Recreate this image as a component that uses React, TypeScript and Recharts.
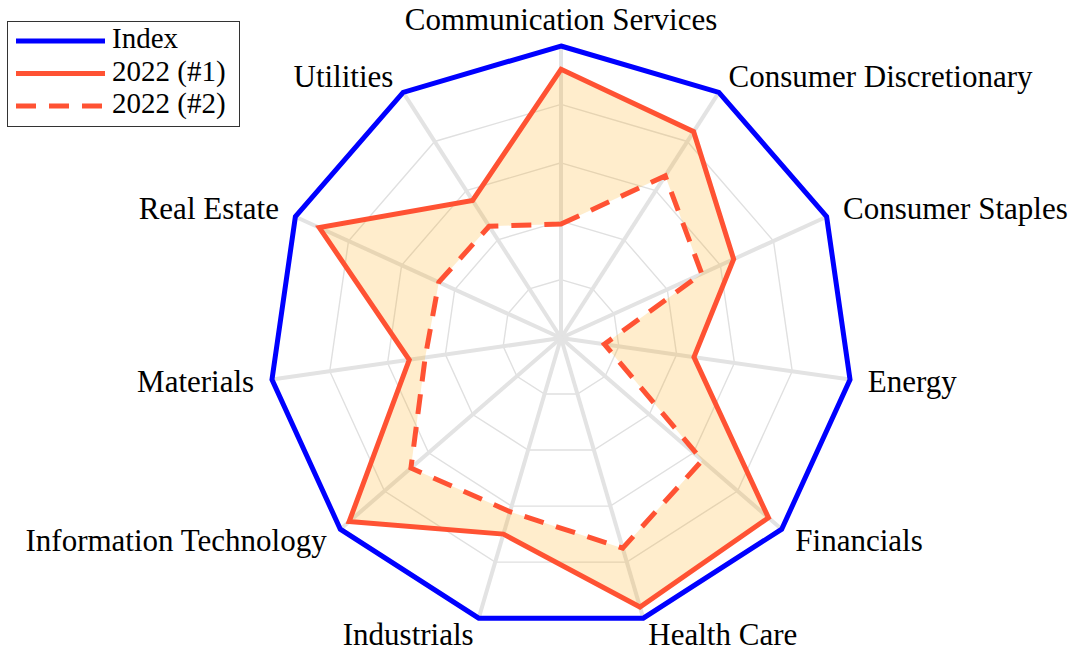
import { RadarChart, Radar, PolarGrid, PolarAngleAxis, PolarRadiusAxis, Legend } from 'recharts';

// sectors, clockwise from the top
const sectors = [
  'Communication Services',
  'Consumer Discretionary',
  'Consumer Staples',
  'Energy',
  'Financials',
  'Health Care',
  'Industrials',
  'Information Technology',
  'Materials',
  'Real Estate',
  'Utilities',
];

// values are relative to the index (index = 1)
const indexValues = [1, 1, 1, 1, 1, 1, 1, 1, 1, 1, 1];
const values2022a = [0.92, 0.84, 0.65, 0.46, 0.94, 0.96, 0.7, 0.96, 0.525, 0.91, 0.56];
const values2022b = [0.39, 0.66, 0.53, 0.15, 0.64, 0.75, 0.62, 0.68, 0.47, 0.46, 0.455];
const radiusTicks = [0.2, 0.4, 0.6, 0.8, 1];

const legendOrder = ['Index', '2022 (#1)', '2022 (#2)'];

const data = sectors.map((sector, i) => ({
  sector,
  index: indexValues[i],
  a: values2022a[i],
  b: values2022b[i],
}));

const CX = 561;
const CY = 338;
const OUTER = 292;
const RED = '#ff5233';
const BLUE = '#0000ff';
const FONT = '"Liberation Serif", "Times New Roman", serif';

// orange band between the two 2022 polygons (inner polygon cut out with evenodd)
const BandShape = (props: any) => {
  const points = props.points || [];
  if (!points.length) return <g />;
  const outer = points.map((p: any) => `${p.x},${p.y}`);
  const inner = points.map((p: any) => {
    const cx = p.cx ?? CX;
    const cy = p.cy ?? CY;
    const k = p.payload.a ? p.payload.b / p.payload.a : 0;
    return `${cx + (p.x - cx) * k},${cy + (p.y - cy) * k}`;
  });
  const d = `M${outer.join('L')}Z M${inner.join('L')}Z`;
  return <path d={d} fill="#ffa500" fillOpacity={0.2} fillRule="evenodd" stroke="none" />;
};

const SectorTick = (props: any) => {
  const { x, y, payload } = props;
  const cx = props.cx ?? CX;
  const cy = props.cy ?? CY;
  const dx = x - cx;
  const dy = y - cy;
  const len = Math.hypot(dx, dy) || 1;
  const ux = dx / len;
  const uy = dy / len;
  const px = x + ux * 10;
  const py = y + uy * 10;
  const middle = Math.abs(ux) < 0.05;
  const anchor = middle ? 'middle' : ux > 0 ? 'start' : 'end';
  const top = middle && uy < 0;
  return (
    <text
      x={px}
      y={top ? py + 2 : py - (uy > 0.9 ? 1 : 0)}
      dy={top ? 0 : '0.33em'}
      textAnchor={anchor}
      style={{ fontFamily: FONT }}
      fontSize={31}
      fill="#000"
    >
      {payload.value}
    </text>
  );
};

const LegendBox = (props: any) => {
  const items = (props.payload || []).filter((p: any) => legendOrder.includes(p.value));
  items.sort((p: any, q: any) => legendOrder.indexOf(p.value) - legendOrder.indexOf(q.value));
  return (
    <div
      style={{
        width: 233,
        height: 106,
        border: '1.5px solid #333',
        background: '#fff',
        boxSizing: 'border-box',
      }}
    >
      <svg width={230} height={103} style={{ display: 'block' }}>
        {items.map((item: any, i: number) => {
          const ly = 19 + i * 32.5;
          return (
            <g key={item.value}>
              <line
                x1={8}
                x2={97}
                y1={ly}
                y2={ly}
                stroke={item.color}
                strokeWidth={5}
                strokeDasharray={item.payload?.strokeDasharray}
              />
              <text x={104} y={ly + 7} style={{ fontFamily: FONT }} fontSize={29} fill="#000">
                {item.value}
              </text>
            </g>
          );
        })}
      </svg>
    </div>
  );
};

export default function App() {
  return (
    <div style={{ position: 'absolute', left: 0, top: 0, background: '#fff' }}>
      <RadarChart
        width={1073}
        height={651}
        data={data}
        cx={CX}
        cy={CY}
        outerRadius={OUTER}
        startAngle={90}
        endAngle={-270}
        margin={{ top: 0, right: 0, bottom: 0, left: 0 }}
      >
        <PolarGrid
          radialLines={false}
          gridType="polygon"
          polarRadius={radiusTicks.map((t) => t * OUTER)}
          stroke="#e0e0e0"
          strokeWidth={1.4}
        />
        <PolarGrid polarRadius={[]} stroke="#e3e3e3" strokeWidth={4} />
        <PolarRadiusAxis domain={[0, 1]} ticks={radiusTicks as any} tick={false} axisLine={false} />
        <PolarAngleAxis dataKey="sector" tick={SectorTick} tickLine={false} axisLine={false} />
        <Radar dataKey="a" shape={BandShape} stroke="none" fill="none" legendType="none" isAnimationActive={false} />
        <Radar
          name="2022 (#2)"
          dataKey="b"
          stroke={RED}
          strokeWidth={5}
          strokeDasharray="20 13"
          fill="none"
          isAnimationActive={false}
        />
        <Radar name="2022 (#1)" dataKey="a" stroke={RED} strokeWidth={5} fill="none" isAnimationActive={false} />
        <Radar name="Index" dataKey="index" stroke={BLUE} strokeWidth={5} fill="none" isAnimationActive={false} />
        <Legend
          layout="horizontal"
          verticalAlign="bottom"
          align="left"
          content={LegendBox}
          wrapperStyle={{ left: 7, top: 21, bottom: 'auto', width: 'auto' }}
        />
      </RadarChart>
    </div>
  );
}
